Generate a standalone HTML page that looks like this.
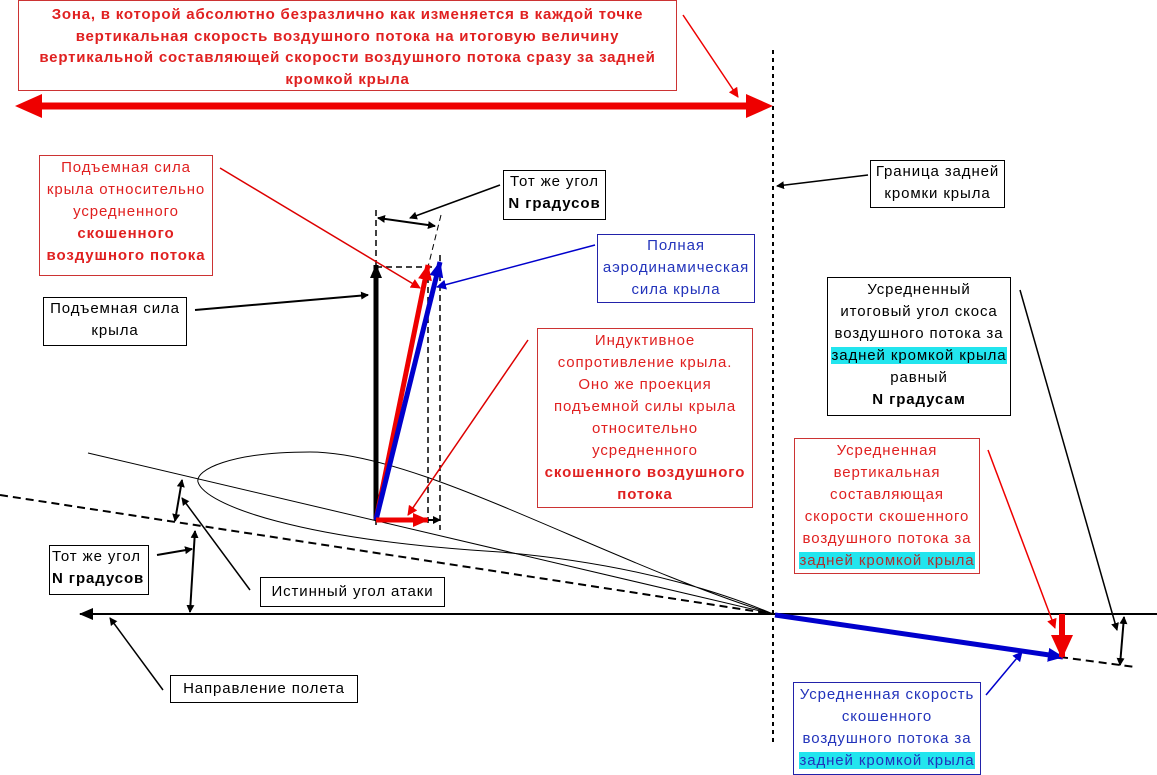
<!DOCTYPE html>
<html><head><meta charset="utf-8"><style>
body{margin:0;width:1157px;height:775px;background:#fff;position:relative;overflow:hidden;font-family:"Liberation Sans","DejaVu Sans",sans-serif;}
.b{position:absolute;border:1px solid #000;background:#fff;text-align:center;font-size:15px;line-height:22px;box-sizing:border-box;white-space:nowrap;letter-spacing:0.9px}
.r{border-color:#c33;color:#e02020}
.bl{border-color:#22a;color:#2233bb}
.cy{background:#22e5ee}
svg{position:absolute;left:0;top:0}
</style></head><body>
<svg width="1157" height="775">
<defs>
<marker id="ak" markerWidth="8" markerHeight="8" refX="7" refY="4" orient="auto-start-reverse" markerUnits="userSpaceOnUse"><path d="M0,0 L8,4 L0,8z" fill="#000"/></marker>
<marker id="ak2" markerWidth="14" markerHeight="12" refX="13" refY="6" orient="auto-start-reverse" markerUnits="userSpaceOnUse"><path d="M0,0 L14,6 L0,12z" fill="#000"/></marker>
<marker id="ar" markerWidth="10" markerHeight="10" refX="9" refY="5" orient="auto" markerUnits="userSpaceOnUse"><path d="M0,0 L10,5 L0,10z" fill="#e00"/></marker>
<marker id="ar2" markerWidth="16" markerHeight="14" refX="15" refY="7" orient="auto" markerUnits="userSpaceOnUse"><path d="M0,0 L16,7 L0,14z" fill="#e00"/></marker>
<marker id="ar3" markerWidth="24" markerHeight="22" refX="22" refY="11" orient="auto" markerUnits="userSpaceOnUse"><path d="M0,0 L24,11 L0,22z" fill="#e00"/></marker>
<marker id="ab" markerWidth="10" markerHeight="10" refX="9" refY="5" orient="auto" markerUnits="userSpaceOnUse"><path d="M0,0 L10,5 L0,10z" fill="#00c"/></marker>
<marker id="ab2" markerWidth="16" markerHeight="14" refX="15" refY="7" orient="auto" markerUnits="userSpaceOnUse"><path d="M0,0 L16,7 L0,14z" fill="#00c"/></marker>
</defs>
<line x1="30" y1="106" x2="758" y2="106" stroke="#e00" stroke-width="7"/>
<path d="M15,106 L42,94 L42,118z M773,106 L746,94 L746,118z" fill="#e00"/>
<line x1="683" y1="15" x2="738" y2="97" stroke="#e00" stroke-width="1.5" marker-end="url(#ar)"/>
<line x1="773" y1="50" x2="773" y2="745" stroke="#000" stroke-width="2" stroke-dasharray="4,4"/>
<line x1="868" y1="175" x2="777" y2="186" stroke="#000" stroke-width="1.5" marker-end="url(#ak)"/>
<line x1="80" y1="614" x2="1157" y2="614" stroke="#000" stroke-width="2" marker-start="url(#ak2)"/>
<line x1="0" y1="495" x2="773" y2="614" stroke="#000" stroke-width="2" stroke-dasharray="8,5"/>
<line x1="1060" y1="657" x2="1135" y2="667" stroke="#000" stroke-width="2" stroke-dasharray="8,5"/>
<line x1="88" y1="453" x2="773" y2="614" stroke="#000" stroke-width="1"/>
<path d="M773,614 C600,560 420,452 310,452 C230,452 195,470 198,482 C205,505 300,540 500,552 C650,565 740,600 773,614" fill="none" stroke="#000" stroke-width="1"/>
<g stroke="#000" stroke-width="1.5" stroke-dasharray="6,4" fill="none">
<line x1="376" y1="210" x2="376" y2="525"/>
<line x1="428" y1="267" x2="428" y2="525"/>
<line x1="440" y1="255" x2="440" y2="530"/>
<line x1="376" y1="267" x2="440" y2="267"/>
<line x1="441" y1="215" x2="428" y2="267" stroke-width="1"/>
</g>
<line x1="378" y1="218" x2="435" y2="226" stroke="#000" stroke-width="2" marker-end="url(#ak)" marker-start="url(#ak)"/>
<line x1="500" y1="185" x2="410" y2="218" stroke="#000" stroke-width="1.5" marker-end="url(#ak)"/>
<line x1="376" y1="520" x2="376" y2="265" stroke="#000" stroke-width="5" marker-end="url(#ak2)"/>
<line x1="376" y1="520" x2="428" y2="265" stroke="#e00" stroke-width="5" marker-end="url(#ar2)"/>
<line x1="376" y1="520" x2="440" y2="262" stroke="#00c" stroke-width="5" marker-end="url(#ab2)"/>
<line x1="376" y1="520" x2="428" y2="520" stroke="#e00" stroke-width="5" marker-end="url(#ar2)"/>
<line x1="428" y1="520" x2="440" y2="520" stroke="#000" stroke-width="2" marker-end="url(#ak)"/>
<line x1="220" y1="168" x2="420" y2="288" stroke="#d00" stroke-width="1.5" marker-end="url(#ar)"/>
<line x1="595" y1="245" x2="437" y2="287" stroke="#00c" stroke-width="1.5" marker-end="url(#ab)"/>
<line x1="195" y1="310" x2="368" y2="295" stroke="#000" stroke-width="2" marker-end="url(#ak)"/>
<line x1="528" y1="340" x2="408" y2="515" stroke="#d00" stroke-width="1.5" marker-end="url(#ar)"/>
<line x1="182" y1="480" x2="175" y2="521" stroke="#000" stroke-width="2" marker-end="url(#ak)" marker-start="url(#ak)"/>
<line x1="195" y1="531" x2="190" y2="612" stroke="#000" stroke-width="2" marker-end="url(#ak)" marker-start="url(#ak)"/>
<line x1="250" y1="590" x2="182" y2="498" stroke="#000" stroke-width="1.5" marker-end="url(#ak)"/>
<line x1="157" y1="555" x2="192" y2="549" stroke="#000" stroke-width="2" marker-end="url(#ak)"/>
<line x1="163" y1="690" x2="110" y2="618" stroke="#000" stroke-width="1.5" marker-end="url(#ak)"/>
<line x1="775" y1="615" x2="1063" y2="657" stroke="#00c" stroke-width="5" marker-end="url(#ab2)"/>
<line x1="1062" y1="614" x2="1062" y2="657" stroke="#e00" stroke-width="6" marker-end="url(#ar3)"/>
<line x1="988" y1="450" x2="1055" y2="628" stroke="#e00" stroke-width="1.5" marker-end="url(#ar)"/>
<line x1="1020" y1="290" x2="1117" y2="630" stroke="#000" stroke-width="1.5" marker-end="url(#ak)"/>
<line x1="1124" y1="617" x2="1120" y2="665" stroke="#000" stroke-width="2" marker-end="url(#ak)" marker-start="url(#ak)"/>
<line x1="986" y1="695" x2="1022" y2="652" stroke="#00c" stroke-width="1.5" marker-end="url(#ab)"/>
</svg>

<div class="b r" style="left:18px;top:0;width:659px;height:91px;font-weight:bold;line-height:21.5px;padding-top:3px;font-size:15px;letter-spacing:0.8px">Зона, в которой абсолютно безразлично как изменяется в каждой точке<br>вертикальная скорость воздушного потока на итоговую величину<br>вертикальной составляющей скорости воздушного потока сразу за задней<br>кромкой крыла</div>
<div class="b" style="left:870px;top:160px;width:135px;height:48px">Граница задней<br>кромки крыла</div>
<div class="b r" style="left:39px;top:155px;width:174px;height:121px;padding-top:1px">Подъемная сила<br>крыла относительно<br>усредненного<br><b>скошенного<br>воздушного потока</b></div>
<div class="b" style="left:503px;top:170px;width:103px;height:50px">Тот же угол<br><b>N градусов</b></div>
<div class="b bl" style="left:597px;top:234px;width:158px;height:69px">Полная<br>аэродинамическая<br>сила крыла</div>
<div class="b" style="left:43px;top:297px;width:144px;height:49px">Подъемная сила<br>крыла</div>
<div class="b r" style="left:537px;top:328px;width:216px;height:180px;padding-top:1px">Индуктивное<br>сопротивление крыла.<br>Оно же проекция<br>подъемной силы крыла<br>относительно<br>усредненного<br><b>скошенного воздушного<br>потока</b></div>
<div class="b" style="left:827px;top:277px;width:184px;height:139px;padding-top:1px">Усредненный<br>итоговый угол скоса<br>воздушного потока за<br><span class="cy">задней кромкой крыла</span><br>равный<br><b>N градусам</b></div>
<div class="b r" style="left:794px;top:438px;width:186px;height:136px;padding-top:1px">Усредненная<br>вертикальная<br>составляющая<br>скорости скошенного<br>воздушного потока за<br><span class="cy" style="color:#a33">задней кромкой крыла</span></div>
<div class="b" style="left:49px;top:545px;width:100px;height:50px;text-align:left;padding-left:2px">Тот же угол<br><b>N градусов</b></div>
<div class="b" style="left:260px;top:577px;width:185px;height:30px;line-height:28px">Истинный угол атаки</div>
<div class="b" style="left:170px;top:675px;width:188px;height:28px;line-height:26px">Направление полета</div>
<div class="b bl" style="left:793px;top:682px;width:188px;height:93px;padding-top:1px">Усредненная скорость<br>скошенного<br>воздушного потока за<br><span class="cy">задней кромкой крыла</span></div>
</body></html>
